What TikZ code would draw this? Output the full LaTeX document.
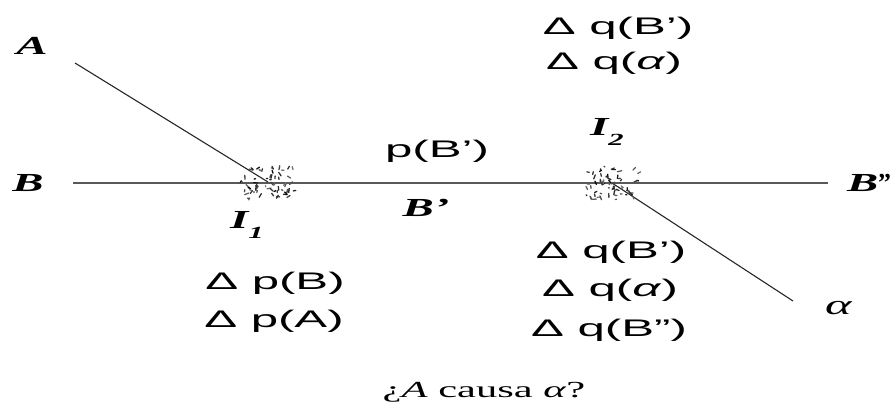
\documentclass[tikz,border=0pt]{standalone}
\usepackage{fontspec}
\usepackage{graphicx}
\setmainfont{Liberation Serif}
\newfontfamily\labsans{Liberation Sans}
\usetikzlibrary{calc}
\newcommand{\sxs}[1]{\scalebox{2.05}[1]{#1}}
\newcommand{\sxt}[1]{\scalebox{1.8}[1]{#1}}
\newcommand{\sxq}[1]{\scalebox{1.85}[1]{#1}}
\newcommand{\isub}[1]{I\raisebox{-0.35em}{\fontsize{17}{17}\selectfont #1}}
\tikzset{
  sanslab/.style={font=\labsans\fontsize{24}{24}\selectfont, anchor=base, inner sep=0pt},
  serlab/.style={font=\fontsize{26}{26}\selectfont\bfseries\itshape, anchor=base, inner sep=0pt},
  qlab/.style={font=\fontsize{23}{23}\selectfont, anchor=base, inner sep=0pt},
  mainline/.style={draw=black!65, line width=1.4pt},
  diagline/.style={draw=black!85, line width=1.1pt},
  scrib/.style={line width=1.3pt, line cap=round},
}
\begin{document}
\begin{tikzpicture}[x=1pt,y=-1pt]
\useasboundingbox (0,0) rectangle (892,403);
% labels
\node[serlab] (lA) at (32,55) {\sxt{A}};
\node[serlab] (lB) at (28,192) {\sxt{B}};
\node[serlab, anchor=base west] (lBpp) at (847,192) {\sxt{B}\kern-2pt’\kern-3pt’};
\node[serlab, anchor=base west, font=\fontsize{28}{28}\selectfont\itshape] (lal) at (825,315) {\sxt{α}};
\node[serlab] (lBp) at (426,217) {\sxt{B’}};
\node[serlab, anchor=base west] (lI1) at (230,229) {\sxt{\isub{1}}};
\node[serlab, anchor=base west] (lI2) at (590,136) {\sxt{\isub{2}}};
% text blocks
\node[sanslab] (pB) at (437,158) {\sxs{p(B’)}};
\node[sanslab] (t1) at (618,35) {\sxs{Δ q(B’)}};
\node[sanslab] (t2) at (614,70) {\sxs{Δ q(\textit{α})}};
\node[sanslab] (r1) at (611,259) {\sxs{Δ q(B’)}};
\node[sanslab] (r2) at (610,297) {\sxs{Δ q(\textit{α})}};
\node[sanslab] (r3) at (609,337) {\sxs{Δ q(B”)}};
\node[sanslab] (l1) at (275,290) {\sxs{Δ p(B)}};
\node[sanslab] (l2) at (274,328) {\sxs{Δ p(A)}};
\node[qlab] (q) at (484,397) {\sxq{¿\textit{A} causa \textit{α}?}};
% geometry
\coordinate (Bs) at (73,183);
\coordinate (Be) at (828,183);
\coordinate (As) at (75,63);
\coordinate (I1c) at (268,182);
\coordinate (I2c) at (612,183);
\coordinate (ale) at (793,301);
\draw[mainline] (Bs) -- (Be);
\draw[diagline] (As) -- (I1c);
\draw[diagline] (I2c) -- (ale);
% scribbles
\pgfmathsetseed{11}
\foreach \k in {1,...,65}{
  \pgfmathsetmacro{\dx}{27*rand}
  \pgfmathsetmacro{\dy}{17*rand}
  \pgfmathsetmacro{\ang}{360*rnd}
  \pgfmathsetmacro{\len}{1+3.5*rnd}
  \pgfmathtruncatemacro{\shade}{55+45*rnd}
  \draw[scrib, draw=black!\shade] ($(I1c)+(\dx,\dy)$) -- ++(\ang:\len);
}
\foreach \k in {1,...,60}{
  \pgfmathsetmacro{\dx}{26*rand}
  \pgfmathsetmacro{\dy}{17*rand}
  \pgfmathsetmacro{\ang}{360*rnd}
  \pgfmathsetmacro{\len}{1+3.5*rnd}
  \pgfmathtruncatemacro{\shade}{55+45*rnd}
  \draw[scrib, draw=black!\shade] ($(I2c)+(\dx,\dy)$) -- ++(\ang:\len);
}
\end{tikzpicture}
\end{document}
